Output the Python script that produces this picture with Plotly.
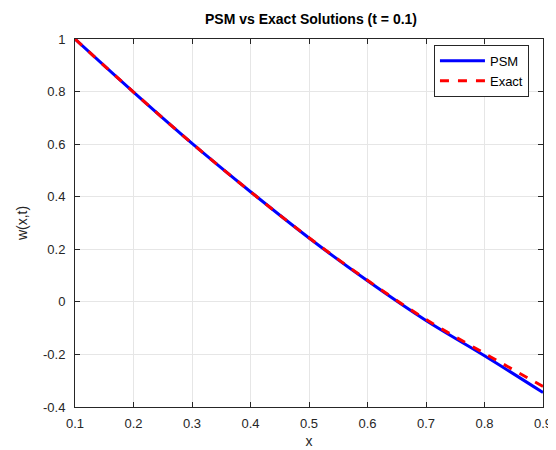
import plotly.graph_objects as go

x_vals = [0.1, 0.2, 0.3, 0.4, 0.5, 0.6, 0.7, 0.8, 0.9]
psm_vals = [1.0, 0.798, 0.603, 0.419, 0.243, 0.080, -0.071, -0.205, -0.345]
exact_vals = [1.0, 0.798, 0.603, 0.419, 0.244, 0.082, -0.067, -0.196, -0.322]

x_ticks = [0.1, 0.2, 0.3, 0.4, 0.5, 0.6, 0.7, 0.8, 0.9]
x_ticktext = ["0.1", "0.2", "0.3", "0.4", "0.5", "0.6", "0.7", "0.8", "0.9"]
y_ticks = [-0.4, -0.2, 0, 0.2, 0.4, 0.6, 0.8, 1]
y_ticktext = ["-0.4", "-0.2", "0", "0.2", "0.4", "0.6", "0.8", "1"]

font_family = "Liberation Sans, Arial, sans-serif"

fig = go.Figure()
fig.add_trace(go.Scatter(x=x_vals, y=psm_vals, mode="lines", name="PSM",
                         line=dict(color="#0000FF", width=3, shape="spline")))
fig.add_trace(go.Scatter(x=x_vals, y=exact_vals, mode="lines", name="Exact",
                         line=dict(color="#FF0000", width=3, dash="dash", shape="spline")))

axis_common = dict(
    showline=True, linecolor="#262626", linewidth=1, mirror="ticks",
    ticks="inside", ticklen=5, tickcolor="#262626",
    showgrid=True, gridcolor="#E6E6E6", gridwidth=1,
    zeroline=False,
    tickfont=dict(family=font_family, size=13, color="#262626"),
)

fig.update_layout(
    width=556, height=450,
    paper_bgcolor="white", plot_bgcolor="white",
    margin=dict(l=67, r=15, t=31, b=45),
    title=dict(text="<b>PSM vs Exact Solutions (t = 0.1)</b>",
               x=0.545, xanchor="center", y=0.975, yanchor="middle",
               font=dict(family=font_family, size=14, color="black")),
    xaxis=dict(range=[0.1, 0.9], tickvals=x_ticks, ticktext=x_ticktext,
               ticklabelstandoff=4,
               title=dict(text="x", standoff=6,
                          font=dict(family=font_family, size=14, color="#262626")),
               **axis_common),
    yaxis=dict(range=[-0.4, 1], tickvals=y_ticks, ticktext=y_ticktext,
               ticklabelstandoff=6,
               title=dict(text="w(x,t)", standoff=12,
                          font=dict(family=font_family, size=14, color="#262626")),
               **axis_common),
    legend=dict(x=0.970, y=0.984, xanchor="right", yanchor="top",
                bgcolor="white", bordercolor="#262626", borderwidth=1,
                font=dict(family=font_family, size=13, color="black"),
                tracegroupgap=0, itemwidth=45),
    showlegend=True,
)

fig.write_html("out.html")
